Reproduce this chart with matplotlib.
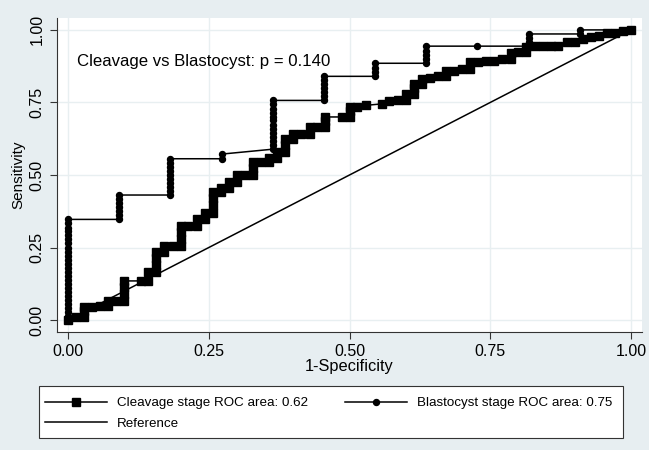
import matplotlib
matplotlib.use("Agg")
import matplotlib.pyplot as plt
from matplotlib.patches import Rectangle

# cleavage stage ROC points (1-specificity, sensitivity)
cleavage_fpr = [0.0, 0.014, 0.029, 0.029, 0.029, 0.043, 0.057, 0.071, 0.071, 0.086,
                0.1, 0.1, 0.1, 0.1, 0.129, 0.143, 0.143, 0.157, 0.157, 0.157, 0.157,
                0.171, 0.171, 0.186, 0.2, 0.2, 0.2, 0.2, 0.214, 0.229, 0.229,
                0.243, 0.243, 0.257, 0.257, 0.257, 0.257, 0.271, 0.271, 0.286, 0.286,
                0.3, 0.3, 0.314, 0.329, 0.329, 0.329, 0.343, 0.357, 0.357, 0.371, 0.371,
                0.386, 0.386, 0.386, 0.4, 0.4, 0.414, 0.429, 0.429, 0.443,
                0.457, 0.457, 0.457, 0.486, 0.5, 0.5, 0.5, 0.514, 0.529, 0.557,
                0.571, 0.586, 0.6, 0.6, 0.614, 0.614, 0.614, 0.629, 0.629, 0.643,
                0.657, 0.671, 0.671, 0.686, 0.7, 0.714, 0.714, 0.729, 0.743, 0.757,
                0.771, 0.786, 0.786, 0.8, 0.814, 0.814, 0.829, 0.843, 0.857, 0.871,
                0.886, 0.9, 0.914, 0.929, 0.943, 0.957, 0.971, 0.986, 1.0]
cleavage_tpr = [0.0, 0.01, 0.01, 0.03, 0.045, 0.045, 0.05, 0.05, 0.065, 0.065,
                0.065, 0.09, 0.115, 0.135, 0.135, 0.135, 0.165, 0.165, 0.19, 0.215, 0.235,
                0.235, 0.255, 0.255, 0.255, 0.28, 0.305, 0.325, 0.325, 0.325, 0.35,
                0.35, 0.37, 0.37, 0.395, 0.42, 0.44, 0.44, 0.455, 0.455, 0.475,
                0.475, 0.5, 0.5, 0.5, 0.525, 0.545, 0.545, 0.545, 0.56, 0.56, 0.58,
                0.58, 0.605, 0.625, 0.625, 0.64, 0.64, 0.64, 0.665, 0.665,
                0.665, 0.685, 0.7, 0.7, 0.7, 0.72, 0.735, 0.735, 0.74, 0.745,
                0.755, 0.76, 0.76, 0.78, 0.78, 0.8, 0.815, 0.815, 0.83, 0.835,
                0.84, 0.84, 0.86, 0.86, 0.865, 0.865, 0.89, 0.89, 0.893, 0.893,
                0.9, 0.9, 0.92, 0.925, 0.925, 0.94, 0.945, 0.945, 0.945, 0.945,
                0.957, 0.96, 0.97, 0.975, 0.98, 0.99, 0.99, 0.995, 1.0]

# blastocyst stage ROC points
blast_fpr = [0.0] * 26 + [0.091] * 7 + [0.182] * 10 + [0.273] * 2 + [0.364] * 13 + \
    [0.455] * 7 + [0.545] * 4 + [0.636] * 5 + [0.727] + [0.818] * 4 + [0.909] * 2 + [1.0]
blast_tpr = [0.0, 0.014, 0.028, 0.042, 0.056, 0.069, 0.083, 0.097, 0.111, 0.125,
             0.139, 0.153, 0.167, 0.181, 0.194, 0.208, 0.222, 0.236, 0.25, 0.264,
             0.278, 0.292, 0.306, 0.319, 0.333, 0.347,
             0.347, 0.361, 0.375, 0.389, 0.403, 0.417, 0.431,
             0.431, 0.444, 0.458, 0.472, 0.486, 0.5, 0.514, 0.528, 0.542, 0.556,
             0.556, 0.572,
             0.589, 0.604, 0.618, 0.632, 0.646, 0.66, 0.674, 0.688, 0.701, 0.715,
             0.729, 0.743, 0.757,
             0.757, 0.771, 0.785, 0.799, 0.813, 0.826, 0.84,
             0.84, 0.854, 0.868, 0.885,
             0.885, 0.899, 0.913, 0.927, 0.944,
             0.944,
             0.944, 0.958, 0.972, 0.986,
             0.986, 1.0,
             1.0]

ref_x = [0.0, 1.0]
ref_y = [0.0, 1.0]

ticks = [0.0, 0.25, 0.5, 0.75, 1.0]
tick_labels = ["0.00", "0.25", "0.50", "0.75", "1.00"]

plt.rcParams["font.family"] = ["Liberation Sans", "DejaVu Sans"]

bg = "#e7eef1"
W, H = 649, 450
fig = plt.figure(figsize=(W / 100, H / 100), dpi=100, facecolor=bg)
ax = fig.add_axes([57 / W, 1 - 332 / H, 585 / W, 314 / H])
ax.set_facecolor("white")

h1, = ax.plot(cleavage_fpr, cleavage_tpr, color="black", linewidth=1.1,
              marker="s", markersize=5.5, label="Cleavage stage ROC area: 0.62")
h2, = ax.plot(blast_fpr, blast_tpr, color="black", linewidth=1.1,
              marker="o", markersize=4.3, label="Blastocyst stage ROC area: 0.75")
h3, = ax.plot(ref_x, ref_y, color="black", linewidth=1.1, label="Reference")

ax.set_xlim(-0.0195, 1.0195)
ax.set_ylim(-0.041, 1.041)
ax.set_xticks(ticks)
ax.set_xticklabels(tick_labels)
ax.set_yticks(ticks)
ax.set_yticklabels(tick_labels, rotation=90, va="center")
ax.tick_params(labelsize=11.5, length=5, width=0.8, color="#333333", pad=4)
ax.grid(True, color="#e8eff1", linewidth=1.0)
ax.set_axisbelow(True)
for side in ["top", "right"]:
    ax.spines[side].set_visible(False)
for side in ["left", "bottom"]:
    ax.spines[side].set_color("#333333")
    ax.spines[side].set_linewidth(0.8)

ax.set_xlabel("1-Specificity", fontsize=11.8, labelpad=0)
ax.set_ylabel("Sensitivity", fontsize=11, labelpad=3)

ax.text(0.016, 0.89, "Cleavage vs Blastocyst: p = 0.140", fontsize=12.1,
        va="center", ha="left")

# legend box drawn by hand, legend itself without frame
fig.patches.append(Rectangle((39 / W, 1 - 438 / H), 584 / W, 52 / H,
                             transform=fig.transFigure, facecolor="white",
                             edgecolor="#333333", linewidth=0.8, zorder=0))
leg = fig.legend([h1, h3, h2], [h1.get_label(), h3.get_label(), h2.get_label()],
                 ncol=2, loc="upper left", bbox_to_anchor=(45 / W, 1 - 397 / H),
                 fontsize=9.6, frameon=False, handlelength=4.65,
                 handletextpad=0.75, columnspacing=2.8,
                 borderaxespad=0, borderpad=0, labelspacing=0.6)

fig.savefig("out.png", dpi=100, facecolor=bg)
